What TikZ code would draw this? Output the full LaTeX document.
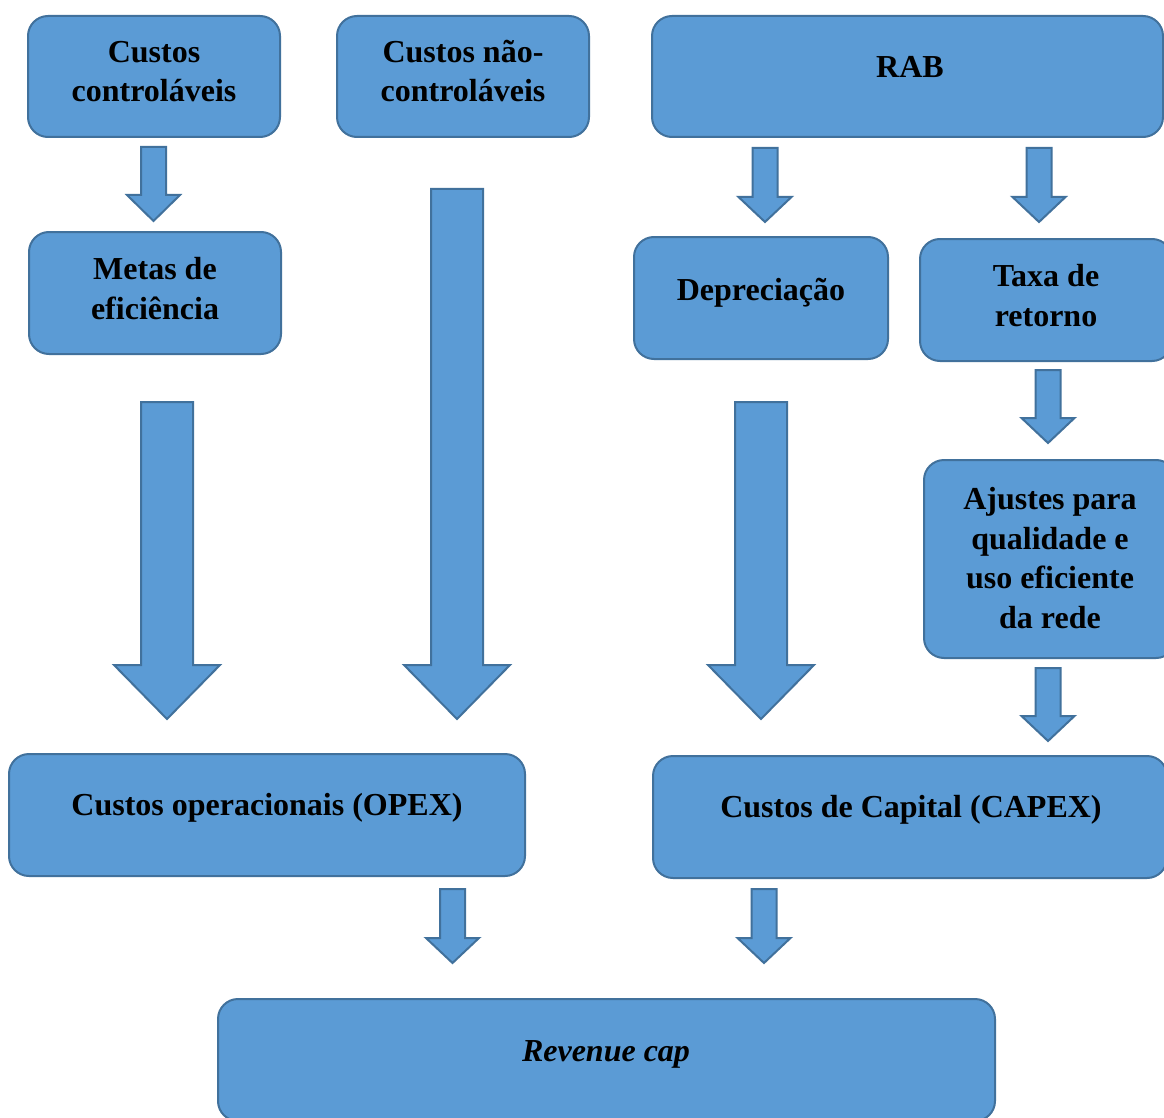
\documentclass[tikz,border=0pt]{standalone}
\usepackage{fontspec}
\setmainfont{Liberation Serif}
\definecolor{boxfill}{HTML}{5B9BD5}
\definecolor{boxline}{HTML}{41719C}
\tikzset{
  box/.style={rounded corners=20pt, fill=boxfill, draw=boxline, line width=2pt, inner sep=0pt},
  txt/.style={anchor=base, align=center, inner sep=0pt, font=\bfseries\fontsize{32}{39.5}\selectfont},
  blockarrow/.style={fill=boxfill, draw=boxline, line width=2pt, line join=miter}
}
% #1 centre x, #2 top y, #3 head base y, #4 tip y, #5 shaft half width, #6 head half width
\newcommand{\blockarr}[6]{%
  \draw[blockarrow] (#1-#5,#2) -- (#1+#5,#2) -- (#1+#5,#3) -- (#1+#6,#3) -- (#1,#4)
    -- (#1-#6,#3) -- (#1-#5,#3) -- cycle;}
\begin{document}
\begin{tikzpicture}[x=1pt,y=-1pt]
\clip (0,0) rectangle (1164,1118);
\fill[white] (0,0) rectangle (1164,1118);

% boxes
\node[box, minimum width=252pt, minimum height=121pt] (cc)    at (154,76.5) {};
\node[box, minimum width=252pt, minimum height=121pt] (cnc)   at (463,76.5) {};
\node[box, minimum width=511pt, minimum height=121pt] (rab)   at (907.5,76.5) {};
\node[box, minimum width=252pt, minimum height=122pt] (metas) at (155,293) {};
\node[box, minimum width=254pt, minimum height=122pt] (dep)   at (761,298) {};
\node[box, minimum width=252pt, minimum height=122pt] (taxa)  at (1046,300) {};
\node[box, minimum width=252pt, minimum height=198pt] (aj)    at (1050,559) {};
\node[box, minimum width=516pt, minimum height=122pt] (opex)  at (267,815) {};
\node[box, minimum width=514pt, minimum height=122pt] (capex) at (910,817) {};
\node[box, minimum width=777pt, minimum height=122pt] (rev)   at (606.5,1060) {};

% texts (base anchor = baseline of the last line)
\node[txt] (cct)    at (154,102)  {Custos\\controláveis};
\node[txt] (cnct)   at (463,102)  {Custos não-\\controláveis};
\node[txt] (rabt)   at (910,78)  {RAB};
\node[txt] (metast) at (155,319) {Metas de\\eficiência};
\node[txt] (dept)   at (761,300) {Depreciação};
\node[txt] (taxat)  at (1046,326) {Taxa de\\retorno};
\node[txt] (ajt)    at (1050,628) {Ajustes para\\qualidade e\\uso eficiente\\da rede};
\node[txt] (opext)  at (267,815) {Custos operacionais (OPEX)};
\node[txt] (capext) at (911,817) {Custos de Capital (CAPEX)};
\node[txt, font=\bfseries\itshape\fontsize{32}{39.5}\selectfont] (revt) at (606,1061) {Revenue cap};

% block arrows
\blockarr{153.5}{147}{195}{221}{12.5}{26.5}
\blockarr{167}{402}{665}{719}{26}{53}
\blockarr{457}{189}{665}{719}{26}{53}
\blockarr{765}{148}{197}{222}{12.5}{26.5}
\blockarr{1039}{148}{197}{222}{12.5}{26.5}
\blockarr{761}{402}{665}{719}{26}{53}
\blockarr{1048}{370}{418}{443}{12.5}{26.5}
\blockarr{1048}{668}{716}{741}{12.5}{26.5}
\blockarr{452.5}{889}{938}{963}{12.5}{26.5}
\blockarr{764}{889}{938}{963}{12.5}{26.5}
\end{tikzpicture}
\end{document}
